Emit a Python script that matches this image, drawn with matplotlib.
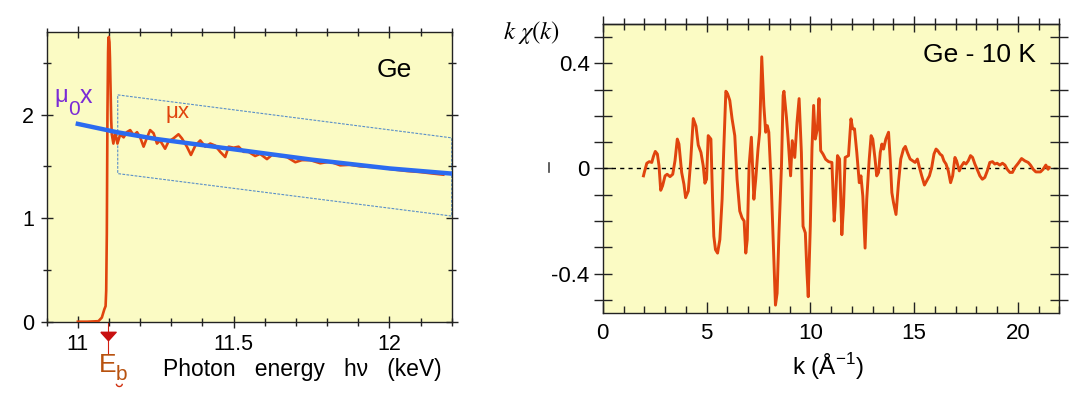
import matplotlib
matplotlib.use('Agg')
import matplotlib.pyplot as plt
import matplotlib.transforms as mtransforms
from matplotlib.path import Path
from matplotlib.lines import Line2D
from matplotlib.patches import Arc
from matplotlib.ticker import MultipleLocator

plt.rcParams['font.family'] = ['Liberation Sans', 'DejaVu Sans']

# --- left panel: absorption mu*x vs photon energy (keV)
energy = [11.0, 11.03, 11.066, 11.077, 11.085, 11.089, 11.091, 11.093, 11.095,
          11.097, 11.098, 11.0995, 11.1015, 11.103, 11.104, 11.107, 11.109,
          11.114, 11.12, 11.127, 11.136, 11.147, 11.157, 11.168, 11.179, 11.19,
          11.2, 11.211, 11.221, 11.232, 11.243, 11.254, 11.264, 11.28, 11.291,
          11.307, 11.323, 11.334, 11.35, 11.363, 11.377, 11.393, 11.409, 11.425,
          11.441, 11.457, 11.473, 11.484, 11.5, 11.516, 11.532, 11.548, 11.569,
          11.585, 11.607, 11.623, 11.649, 11.671, 11.698, 11.719, 11.746, 11.778,
          11.81, 11.842, 11.874, 11.906, 11.938, 11.97, 12.013, 12.056, 12.099,
          12.141, 12.173]
mu_x = [0.0, 0.0, 0.005, 0.04, 0.12, 0.15, 0.3, 0.85, 2.0,
        2.6, 2.73, 2.75, 2.7, 2.55, 2.4, 1.95, 1.81,
        1.72, 1.83, 1.72, 1.81, 1.78, 1.83, 1.85, 1.80, 1.83,
        1.78, 1.69, 1.77, 1.85, 1.82, 1.72, 1.75, 1.67, 1.74,
        1.77, 1.81, 1.77, 1.69, 1.61, 1.70, 1.75, 1.69, 1.72,
        1.70, 1.64, 1.59, 1.69, 1.68, 1.69, 1.64, 1.64, 1.60,
        1.62, 1.57, 1.61, 1.60, 1.59, 1.54, 1.56, 1.56, 1.53,
        1.545, 1.51, 1.515, 1.50, 1.495, 1.49, 1.47, 1.455, 1.445,
        1.43, 1.42]
mu0_energy = [11.0, 11.125, 11.25, 11.5, 11.75, 12.0, 12.2]
mu0_x = [1.91, 1.83, 1.765, 1.665, 1.565, 1.48, 1.43]
box_energy = [11.128, 12.2, 12.2, 11.128, 11.128]
box_mu = [2.19, 1.775, 1.02, 1.43, 2.19]
edge_energy = 11.096

# --- right panel: EXAFS k*chi(k)
k = [1.96, 2.0, 2.12, 2.24, 2.36, 2.44, 2.53, 2.63, 2.71, 2.79, 2.88, 3.0, 3.1,
     3.24, 3.37, 3.48, 3.59, 3.67, 3.8, 3.91, 3.99, 4.12, 4.23, 4.36, 4.49, 4.6,
     4.73, 4.84, 4.92, 5.0, 5.08, 5.21, 5.29, 5.35, 5.43, 5.53, 5.64, 5.75, 5.83,
     5.93, 6.01, 6.12, 6.23, 6.36, 6.47, 6.6, 6.71, 6.81, 6.89, 6.96, 7.05, 7.16,
     7.28, 7.37, 7.48, 7.56, 7.66, 7.76, 7.85, 7.93, 8.0, 8.12, 8.21, 8.32, 8.4,
     8.49, 8.61, 8.69, 8.73, 8.85, 8.93, 9.05, 9.13, 9.25, 9.36, 9.46, 9.57, 9.65,
     9.76, 9.84, 9.9, 10.0, 10.08, 10.16, 10.24, 10.34, 10.42, 10.5, 10.61, 10.74,
     10.88, 11.04, 11.15, 11.2, 11.31, 11.41, 11.52, 11.6, 11.68, 11.84, 11.96,
     12.04, 12.13, 12.24, 12.36, 12.44, 12.53, 12.64, 12.72, 12.84, 12.93, 13.01,
     13.12, 13.2, 13.29, 13.37, 13.45, 13.53, 13.64, 13.77, 13.85, 13.93, 14.01,
     14.13, 14.25, 14.36, 14.49, 14.58, 14.68, 14.81, 14.94, 15.05, 15.16, 15.26,
     15.37, 15.5, 15.61, 15.74, 15.85, 15.96, 16.06, 16.14, 16.25, 16.35, 16.44,
     16.54, 16.65, 16.76, 16.86, 16.97, 17.05, 17.18, 17.29, 17.4, 17.5, 17.61,
     17.72, 17.82, 17.93, 18.04, 18.17, 18.29, 18.41, 18.53, 18.65, 18.78, 18.89,
     19.0, 19.13, 19.26, 19.38, 19.49, 19.62, 19.74, 19.86, 20.02, 20.18, 20.34,
     20.5, 20.61, 20.74, 20.87, 20.98, 21.09, 21.22, 21.35, 21.46, 21.51]
k_chi = [-0.028, -0.015, 0.02, 0.026, 0.023, 0.046, 0.065, 0.055, 0.01, -0.083,
         -0.066, -0.028, -0.022, -0.031, -0.022, 0.03, 0.112, 0.093, -0.015,
         -0.06, -0.111, -0.086, 0.023, 0.19, 0.161, 0.089, 0.061, 0.01, -0.056,
         -0.041, 0.125, 0.112, -0.117, -0.258, -0.309, -0.322, -0.271, -0.117,
         0.074, 0.294, 0.285, 0.259, 0.189, 0.125, -0.041, -0.162, -0.188, -0.2,
         -0.322, -0.271, 0.01, 0.119, -0.117, -0.041, 0.074, 0.138, 0.425, 0.24,
         0.138, 0.163, 0.138, -0.066, -0.271, -0.52, -0.475, -0.245, 0.01, 0.278,
         0.294, 0.195, 0.112, -0.028, 0.106, 0.042, 0.176, 0.266, 0.061, -0.22,
         -0.245, -0.398, -0.488, -0.22, 0.074, 0.24, 0.112, 0.151, 0.266, 0.068,
         0.055, 0.035, 0.026, 0.023, -0.2, -0.143, 0.049, 0.036, -0.252, -0.143,
         0.042, 0.049, 0.189, 0.151, 0.151, 0.061, -0.054, -0.028, -0.105, -0.303,
         -0.117, 0.036, 0.125, 0.112, 0.036, -0.028, -0.015, 0.061, 0.093, 0.074,
         0.112, 0.138, 0.036, -0.092, -0.13, -0.175, -0.054, 0.036, 0.074, 0.084,
         0.061, 0.036, 0.029, 0.023, 0.036, 0.004, -0.028, -0.063, -0.047, -0.028,
         0.004, 0.055, 0.074, 0.068, 0.055, 0.049, 0.029, 0.017, -0.009, -0.054,
         -0.028, 0.042, 0.029, -0.009, 0.01, 0.023, 0.017, 0.029, 0.049, 0.042,
         0.017, -0.003, -0.028, -0.041, -0.034, -0.009, 0.023, 0.026, 0.017, 0.02,
         0.013, 0.02, 0.013, -0.003, -0.015, -0.015, 0.004, 0.02, 0.038, 0.029,
         0.023, 0.013, -0.003, -0.013, -0.013, -0.013, -0.003, 0.013, -0.003, 0.004]

bg = '#FBFBC4'
orange = '#E0440E'

fig = plt.figure(figsize=(10.8, 3.94), dpi=100)

# ---------------- left panel
ax1 = fig.add_axes([0.04324, 0.1835, 0.375, 0.736])
ax1.set_facecolor(bg)
ax1.plot(energy, mu_x, color=orange, lw=1.9, zorder=3)
ax1.plot(mu0_energy, mu0_x, color='#2B6BF0', lw=3.2, zorder=4)
ax1.plot(box_energy, box_mu, color='#5A8FC8', lw=0.8, ls=(0, (2.5, 1.2)),
         clip_on=False, zorder=2)
ax1.set_xlim(10.9, 12.2)
ax1.set_ylim(0, 2.8)
ax1.xaxis.set_major_locator(MultipleLocator(0.5))
ax1.xaxis.set_minor_locator(MultipleLocator(0.1))
ax1.yaxis.set_major_locator(MultipleLocator(1))
ax1.yaxis.set_minor_locator(MultipleLocator(0.5))
ax1.set_xticks([11, 11.5, 12])
ax1.set_xticklabels(['11', '11.5', '12'])
ax1.tick_params(which='both', direction='inout', top=True, right=True,
                labelsize=15.5, color='#222222')
ax1.tick_params(which='major', length=8, width=1)
ax1.tick_params(which='minor', length=6, width=1)
ax1.tick_params(axis='x', pad=5)
ax1.tick_params(axis='y', pad=5)
for s in ax1.spines.values():
    s.set_color('#222222')
    s.set_linewidth(1)

ax1.text(12.017, 2.36, 'Ge', fontsize=19, ha='center', va='baseline')
ax1.text(10.925, 2.12, 'μ', fontsize=17, color='#7A2BD6', ha='left',
         va='baseline')
ax1.text(10.968, 1.995, '0', fontsize=15, color='#7A2BD6', ha='left',
         va='baseline')
ax1.text(11.006, 2.11, 'x', fontsize=18, color='#7A2BD6', ha='left',
         va='baseline')
ax1.text(11.28, 1.965, 'μx', fontsize=16, color=orange, ha='left',
         va='baseline')

# binding-energy marker under the axis
trans = mtransforms.blended_transform_factory(ax1.transData, ax1.transAxes)
tri = Path([(-1, 0.55), (1, 0.55), (0, -0.55), (-1, 0.55)])
ax1.plot([edge_energy, edge_energy], [0, -0.11], color='#D02010', lw=0.8,
         transform=trans, clip_on=False)
ax1.plot([edge_energy], [-0.05], marker=tri, ms=11, color='#C81010',
         transform=trans, clip_on=False, zorder=5)
fig.text(0.0915, 0.056, 'E', fontsize=19, color='#B8520F', ha='left',
         va='baseline')
fig.text(0.1075, 0.036, 'b', fontsize=15, color='#B8520F', ha='left',
         va='baseline')
fig.add_artist(Arc((0.1105, 0.026), 0.0055, 0.014, theta1=180, theta2=360,
                   color='#D03010', lw=1.0, transform=fig.transFigure))
fig.text(0.28, 0.046, 'Photon   energy   hν   (keV)', fontsize=16.5,
         ha='center', va='baseline')

# ---------------- right panel
ax2 = fig.add_axes([0.55815, 0.2056, 0.4227, 0.7335])
ax2.set_facecolor(bg)
ax2.axhline(0, color='black', lw=1, ls=(0, (3, 3)), zorder=2)
ax2.plot(k, k_chi, color=orange, lw=2.1, zorder=3)
ax2.set_xlim(0, 22)
ax2.set_ylim(-0.55, 0.55)
ax2.xaxis.set_major_locator(MultipleLocator(5))
ax2.xaxis.set_minor_locator(MultipleLocator(1))
ax2.set_yticks([-0.5, -0.4, -0.3, -0.2, -0.1, 0, 0.1, 0.2, 0.3, 0.4, 0.5])
ax2.set_yticklabels(['', '-0.4', '', '', '', '0', '', '', '', '0.4', ''])
ax2.tick_params(axis='x', which='both', direction='in', labelsize=16,
                color='#222222', pad=7)
ax2.tick_params(axis='x', which='major', length=8, width=1)
ax2.tick_params(axis='x', which='minor', length=5, width=1)
ax2.tick_params(axis='y', which='both', direction='inout', right=True,
                length=13, width=1, labelsize=16, color='#222222', pad=3)
top = ax2.secondary_xaxis('top')
top.xaxis.set_major_locator(MultipleLocator(5))
top.xaxis.set_minor_locator(MultipleLocator(1))
top.tick_params(which='both', direction='inout', labeltop=False,
                color='#222222')
top.tick_params(which='major', length=12, width=1)
top.tick_params(which='minor', length=9, width=1)
for s in list(ax2.spines.values()) + list(top.spines.values()):
    s.set_color('#222222')
    s.set_linewidth(1)

ax2.text(0.825, 0.87, 'Ge - 10 K', fontsize=19, transform=ax2.transAxes,
         ha='center', va='baseline')
fig.text(0.767, 0.048, r'k (Å$^{\mathregular{-1}}$)', fontsize=17.5,
         ha='center', va='baseline')
fig.text(0.4655, 0.9, r'$k\ \chi(k)$', fontsize=18, ha='left',
         va='baseline', math_fontfamily='stix')

# small stray mark left of the right panel
fig.add_artist(Line2D([0.5085, 0.5085], [0.563, 0.587], color='#444444',
                      lw=1.2, transform=fig.transFigure))

fig.savefig('out.png', dpi=100)
